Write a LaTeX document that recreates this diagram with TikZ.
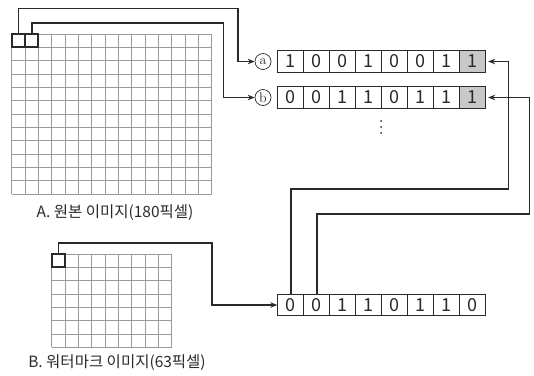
\documentclass[tikz,border=0pt]{standalone}
\usepackage{fontspec}
\newfontfamily\kofont{Noto Sans CJK KR}
\usepackage{tikz}
\usetikzlibrary{arrows.meta}
\definecolor{inkgray}{HTML}{2A2A2A}
\definecolor{gridgray}{HTML}{9A9A9A}
\definecolor{bitfill}{HTML}{C8C8C8}
\newcommand*{\bitrow}[4]{%
  \foreach \b [count=\i] in {#3}{%
    \ifnum\i=8 \def\cellfill{#4}\else\def\cellfill{white}\fi
    \node[bit, fill=\cellfill] (#1-\i) at ({290.7+26*(\i-1)}, #2) {\b};
  }%
}

\begin{document}
\begin{tikzpicture}[x=1pt,y=-1pt,
    every node/.style = {text=inkgray},
    gridline/.style   = {gridgray, line width=0.9pt},
    hicell/.style     = {draw=inkgray, line width=1.9pt,
      minimum size=13.33pt, inner sep=0pt},
    bit/.style        = {draw=inkgray, line width=0.9pt,
      minimum width=26pt, minimum height=21.7pt, inner sep=0pt,
      font=\kofont\fontsize{18}{18}\selectfont},
    tag/.style        = {draw=inkgray, circle, line width=0.7pt,
      minimum size=16pt, inner sep=0pt,
      font=\rmfamily\fontsize{14}{14}\selectfont},
    caption/.style    = {font=\kofont\fontsize{15.5}{16}\selectfont},
    link/.style       = {inkgray, line width=1.6pt,
      -{Stealth[length=7pt,width=5.5pt]}}]
  \useasboundingbox (0,0) rectangle (534,375);
  % original image, 15 x 12 pixels
  \foreach \i in {0,...,15}
    \draw[gridline] ({11.7+13.333*\i},34) -- ++(0,160);
  \foreach \j in {0,...,12}
    \draw[gridline] (11.7,{34+13.333*\j}) -- ++(200,0);
  \node[hicell] (origA) at (18.37,40.67) {};
  \node[hicell] (origB) at (31.7,40.67) {};
  \node[caption] (capA) at (115,213) {A. 원본 이미지(180픽셀)};
  % watermark image, 9 x 7 pixels
  \foreach \i in {0,...,9}
    \draw[gridline] ({51.7+13.333*\i},254) -- ++(0,93.33);
  \foreach \j in {0,...,7}
    \draw[gridline] (51.7,{254+13.333*\j}) -- ++(120,0);
  \node[hicell] (markCell) at (58.37,260.67) {};
  \node[caption] (capB) at (117,363) {B. 워터마크 이미지(63픽셀)};
  % bit rows
  \node[tag] (tagA) at (263,61.5) {a};
  \node[tag] (tagB) at (263,97.5) {b};
  \bitrow{bitA}{61.5}{1,0,0,1,0,0,1,1}{bitfill}
  \bitrow{bitB}{97.5}{0,0,1,1,0,1,1,1}{bitfill}
  \bitrow{markBit}{305}{0,0,1,1,0,1,1,0}{white}
  % more rows
  \foreach \y in {121,127,133}
    \fill[inkgray] (381,\y) circle (1pt);
  % connectors
  \coordinate (turnA) at (237.7,8.3);
  \coordinate (turnB) at (223.3,22.7);
  \coordinate (turnM) at (211.7,242.7);
  \coordinate (loopA) at (508.3,189);
  \coordinate (loopB) at (529.3,214);
  \draw[link] (origA.north) |- (turnA) |- (tagA.west);
  \draw[link] (origB.north) |- (turnB) |- (tagB.west);
  \draw[link] (markCell.north) |- (turnM) |- (markBit-1.west);
  \draw[link, shorten >=2pt] (markBit-1.north) |- (loopA) |- (bitA-8.east);
  \draw[link, shorten >=2pt] (markBit-2.north) |- (loopB) |- (bitB-8.east);
\end{tikzpicture}
\end{document}
